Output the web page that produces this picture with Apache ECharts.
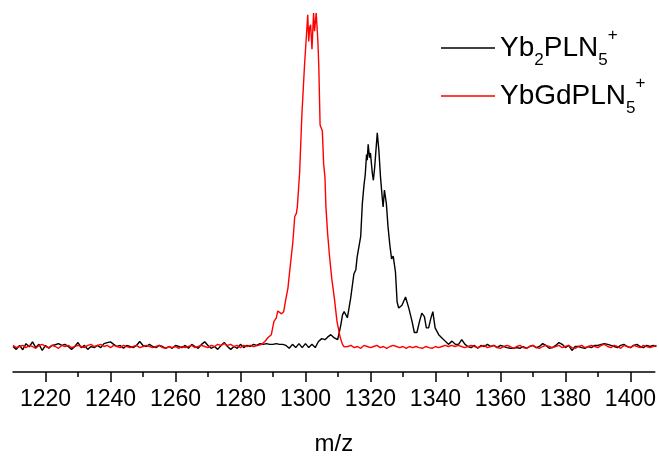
<!DOCTYPE html>
<html>
<head>
<meta charset="utf-8">
<script src="https://cdn.jsdelivr.net/npm/echarts@6/dist/echarts.min.js"></script>
<style>
html,body{margin:0;padding:0;background:#fff;}
#chart{width:659px;height:461px;}
</style>
</head>
<body>
<div id="chart"></div>
<script>
// Series names
const seriesNames = ['Yb₂PLN₅⁺', 'YbGdPLN₅⁺'];
const legendRich = ['{m|Yb}{s|2}{m|PLN}{s|5}{p|+}', '{m|YbGdPLN}{s|5}{p|+}'];

// x-axis
const xMin = 1210;
const xMax = 1407.5;
const tickValues = [1220, 1240, 1260, 1280, 1300, 1320, 1340, 1360, 1380, 1400];
const axisTitle = 'm/z';

// Black (Yb2PLN5+): baseline noise 1210..1306 (step 1)
const blackNoiseLeftStart = 1210;
const blackNoiseLeft = [
  7.1, 6.3, 7.4, 6.2, 7.9, 7.0, 8.4, 6.8, 7.7, 6.0,
  7.4, 6.6, 7.4, 7.6, 7.9, 7.4, 7.7, 7.1, 6.3, 7.1,
  8.2, 6.8, 7.4, 6.3, 7.1, 6.8, 7.4, 6.8, 7.9, 8.2,
  8.4, 7.7, 7.1, 7.4, 6.6, 7.4, 7.1, 6.8, 7.4, 8.5,
  7.4, 7.1, 7.7, 7.1, 6.8, 7.4, 7.1, 6.6, 7.1, 6.6,
  7.4, 7.1, 6.8, 7.4, 6.6, 7.7, 7.1, 6.6, 7.7, 8.4,
  7.4, 6.6, 7.1, 6.3, 7.4, 8.2, 7.1, 6.3, 7.1, 6.6,
  7.7, 6.8, 7.4, 7.1, 7.7, 7.4, 7.9, 7.7, 7.9, 7.7,
  7.7, 7.9, 7.7, 7.7, 7.4, 6.6, 7.7, 6.8, 7.9, 6.8,
  7.9, 6.8, 7.7, 6.8, 8.5, 9.3, 9.0
];
// Black peak [m/z, intensity]
const blackPeak = [
  [1306.8, 9.7], [1307.8, 10.4], [1308.4, 10.0], [1308.9, 9.5], [1309.9, 9.0],
  [1310.4, 11.0], [1310.9, 13.2], [1311.4, 15.9], [1311.9, 16.8], [1312.4, 16.4],
  [1312.9, 15.1], [1313.9, 20.5], [1314.9, 27.3], [1315.5, 28.5], [1315.9, 32.0],
  [1317.0, 37.8], [1317.5, 46.9], [1318.0, 52.0], [1318.4, 55.0], [1318.8, 60.6],
  [1319.0, 59.0], [1319.3, 63.4], [1319.7, 59.7], [1320.0, 61.0], [1320.6, 55.2],
  [1320.9, 53.4], [1321.3, 57.0], [1322.1, 66.6], [1322.6, 61.6], [1323.1, 54.2],
  [1323.6, 48.8], [1323.9, 46.0], [1324.3, 50.7], [1324.9, 46.9], [1325.4, 40.5],
  [1326.0, 35.1], [1326.5, 31.5], [1327.0, 32.3], [1327.7, 27.8], [1328.2, 19.5],
  [1328.7, 17.8], [1329.7, 18.6], [1330.8, 20.9], [1331.3, 21.4], [1331.8, 17.8],
  [1332.8, 14.1], [1333.5, 11.0], [1334.3, 11.0], [1335.1, 14.1], [1335.8, 16.4],
  [1336.6, 15.4], [1337.2, 12.3], [1337.9, 12.3], [1338.6, 15.0], [1339.2, 16.8],
  [1339.9, 12.3], [1341.0, 10.4], [1342.0, 9.5], [1343.0, 8.6], [1344.0, 7.7],
  [1345.1, 8.6], [1346.1, 7.7], [1347.1, 7.7], [1348.1, 9.0], [1349.1, 7.7],
  [1350.0, 7.1]
];
// Black baseline noise 1351..1408
const blackNoiseRightStart = 1351;
const blackNoiseRight = [
  6.8, 7.4, 6.6, 7.4, 7.1, 7.7, 7.1, 7.4, 6.8, 7.4,
  7.1, 6.8, 6.6, 6.6, 6.8, 6.6, 7.1, 6.6, 7.1, 7.4,
  6.8, 7.1, 7.9, 7.4, 6.6, 6.8, 7.4, 8.2, 7.7, 6.8,
  7.4, 6.0, 7.1, 7.1, 6.8, 6.6, 7.1, 6.8, 7.4, 7.4,
  7.7, 7.9, 7.7, 7.4, 7.1, 6.8, 7.4, 7.7, 7.1, 6.8,
  7.4, 7.7, 7.1, 6.8, 7.4, 7.1, 7.4, 7.1
];

// Red (YbGdPLN5+): baseline noise 1210..1284
const redNoiseLeftStart = 1210;
const redNoiseLeft = [
  7.4, 6.8, 7.1, 7.4, 6.8, 7.4, 7.1, 6.6, 7.4, 7.7,
  7.1, 6.8, 7.4, 7.1, 6.6, 7.4, 7.1, 7.4, 6.8, 7.1,
  7.4, 7.1, 6.8, 7.4, 7.7, 7.1, 7.4, 7.7, 7.1, 7.4,
  6.8, 7.4, 7.1, 6.8, 7.4, 7.1, 6.8, 7.1, 7.4, 6.8,
  7.1, 7.4, 7.1, 6.8, 7.1, 7.4, 6.8, 6.6, 7.1, 6.8,
  7.1, 6.6, 7.1, 6.8, 7.1, 7.4, 6.8, 7.1, 7.4, 7.1,
  6.8, 7.4, 7.1, 7.7, 7.4, 7.9, 7.4, 7.7, 7.1, 7.4,
  6.8, 7.4, 7.1, 7.4, 7.1
];
// Red peak [m/z, intensity]
const redPeak = [
  [1285.5, 7.4], [1286.5, 7.7], [1287.5, 8.5], [1288.5, 9.6], [1289.5, 10.4],
  [1290.3, 14.1], [1291.0, 15.0], [1291.5, 17.0], [1292.1, 17.4], [1292.6, 16.2],
  [1293.3, 16.8], [1294.0, 20.5], [1294.6, 23.3], [1295.1, 27.7], [1296.1, 36.0],
  [1296.7, 43.3], [1297.2, 44.2], [1297.5, 46.0], [1298.2, 55.5], [1298.9, 71.6],
  [1299.1, 72.0], [1299.7, 85.3], [1300.2, 85.8], [1300.7, 99.5], [1301.0, 92.1],
  [1301.3, 96.0], [1301.6, 96.7], [1302.0, 89.9], [1302.5, 100], [1302.8, 94.9],
  [1303.3, 100], [1303.8, 92.6], [1304.1, 85.3], [1304.5, 68.8], [1305.0, 68.4],
  [1305.2, 67.1], [1305.6, 57.9], [1306.0, 54.2], [1306.3, 46.0], [1306.8, 38.8],
  [1307.4, 32.3], [1308.1, 26.0], [1308.9, 20.5], [1309.7, 14.1], [1310.7, 9.6],
  [1311.4, 7.7], [1311.9, 7.0], [1312.5, 7.4]
];
// Red baseline noise 1313..1408
const redNoiseRightStart = 1313;
const redNoiseRight = [
  7.1, 7.4, 6.8, 7.1, 6.6, 7.4, 7.1, 6.8, 7.1, 7.4,
  6.8, 7.1, 6.6, 7.1, 7.4, 7.1, 6.8, 7.1, 6.6, 7.1,
  6.8, 7.1, 6.8, 6.6, 7.1, 6.8, 6.6, 7.1, 6.8, 7.1,
  7.4, 7.1, 7.4, 7.1, 7.4, 7.1, 6.8, 7.1, 7.4, 7.1,
  6.8, 7.1, 7.4, 6.8, 7.1, 7.4, 6.8, 6.6, 7.1, 7.4,
  7.1, 6.6, 7.1, 7.4, 6.8, 6.6, 7.1, 7.4, 6.8, 6.6,
  7.1, 7.4, 7.1, 6.8, 7.1, 7.4, 6.8, 7.1, 7.4, 6.8,
  6.6, 7.1, 7.4, 6.8, 7.1, 7.4, 7.1, 6.8, 7.4, 7.7,
  7.1, 6.8, 7.4, 7.1, 6.6, 7.4, 7.1, 6.8, 7.4, 7.1,
  6.8, 7.4, 7.1, 6.8, 7.1, 7.4
];

function seg(start, vals) { return vals.map((v, i) => [start + i, v]); }

const blackData = seg(blackNoiseLeftStart, blackNoiseLeft)
  .concat(blackPeak, seg(blackNoiseRightStart, blackNoiseRight));
const redData = seg(redNoiseLeftStart, redNoiseLeft)
  .concat(redPeak, seg(redNoiseRightStart, redNoiseRight));

const FONT = "'Liberation Sans', Arial, sans-serif";
const chart = echarts.init(document.getElementById('chart'), null, {renderer: 'canvas'});
chart.setOption({
  animation: false,
  backgroundColor: '#ffffff',
  grid: {left: 13, right: 0, top: 13, bottom: 83, containLabel: false},
  legend: {
    orient: 'vertical',
    left: 441,
    top: 27,
    icon: 'rect',
    itemWidth: 54,
    itemHeight: 1.4,
    itemGap: 6,
    padding: 0,
    data: seriesNames,
    formatter: function (name) { return legendRich[seriesNames.indexOf(name)]; },
    textStyle: {
      color: '#000',
      fontFamily: FONT,
      rich: {
        m: {fontSize: 28, fontFamily: FONT, color: '#000', lineHeight: 42, verticalAlign: 'middle'},
        s: {fontSize: 17, fontFamily: FONT, color: '#000', lineHeight: 10, verticalAlign: 'bottom'},
        p: {fontSize: 17, fontFamily: FONT, color: '#000', lineHeight: 38, verticalAlign: 'top'}
      }
    }
  },
  xAxis: {
    type: 'value',
    min: xMin,
    max: xMax,
    splitNumber: 10,
    name: axisTitle,
    nameLocation: 'middle',
    nameGap: 60,
    nameTextStyle: {fontSize: 24, fontFamily: FONT, color: '#000'},
    axisLine: {show: true, lineStyle: {color: '#000', width: 1.5}},
    axisTick: {show: true, inside: false, length: 10, customValues: tickValues, lineStyle: {color: '#000', width: 1.5}},
    minorTick: {show: true, splitNumber: 2, length: 5, lineStyle: {color: '#000', width: 1.5}},
    axisLabel: {
      fontSize: 23, fontFamily: FONT, color: '#000', margin: 16,
      customValues: tickValues,
      formatter: function (v) { return String(v); }
    },
    splitLine: {show: false}
  },
  yAxis: {
    type: 'value',
    min: 0,
    max: 100,
    show: false,
    splitLine: {show: false}
  },
  series: [
    {
      name: seriesNames[0], type: 'line', data: blackData,
      symbol: 'none', showSymbol: false, smooth: false,
      lineStyle: {color: '#000000', width: 1.4},
      itemStyle: {color: '#000000'}
    },
    {
      name: seriesNames[1], type: 'line', data: redData,
      symbol: 'none', showSymbol: false, smooth: false,
      lineStyle: {color: '#ff0000', width: 1.4},
      itemStyle: {color: '#ff0000'}
    }
  ]
});
</script>
</body>
</html>
